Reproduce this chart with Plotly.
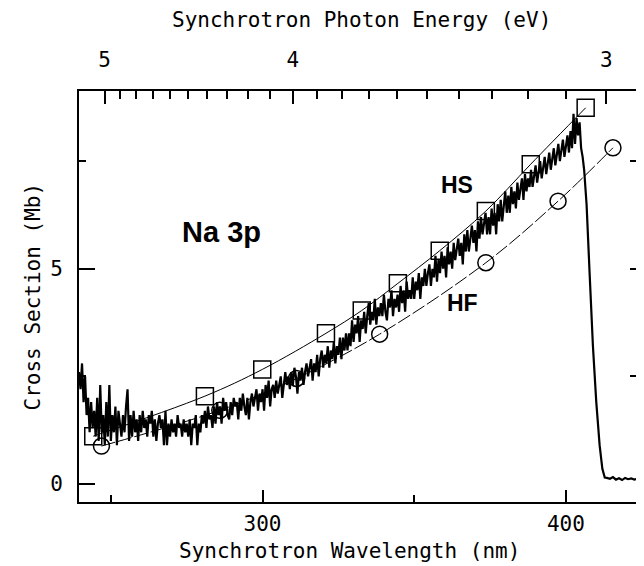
import plotly.graph_objects as go

HC = 1239.84  # eV*nm, converts photon energy to wavelength for the top axis

# ---------------- data ----------------
x_range = [239.5, 425.4]
y_range = [-0.42, 9.13]

wl_major_ticks = [300, 400]
wl_minor_ticks = [250, 350]
mb_major_ticks = [0, 5]
mb_minor_ticks = [2.5, 7.5]
mb_right_ticks = [2.5, 5, 7.5]
energy_major = [5, 4, 3]
energy_minor = [4.9, 4.8, 4.7, 4.6, 4.5, 4.4, 4.3, 4.2, 4.1,
                3.9, 3.8, 3.7, 3.6, 3.5, 3.4, 3.3, 3.2, 3.1]

# measured spectrum, sampled every 0.5 nm from 239.5 nm
spec_start = 239.5
spec_step = 0.5
spec_mb = [
    2.6, 2.2, 2.8, 1.9, 2.5, 1.6, 2.0, 1.2, 1.9, 1.3,
    1.7, 1.1, 2.0, 1.0, 2.3, 1.2, 1.6, 0.9, 1.9, 1.1,
    2.3, 1.0, 1.6, 1.2, 1.8, 0.9, 1.7, 1.3, 1.1, 1.6,
    1.2, 1.8, 2.2, 1.0, 1.6, 1.1, 1.7, 1.2, 1.5, 1.0,
    1.6, 1.2, 1.7, 1.3, 1.5, 1.1, 1.6, 1.4, 1.7, 1.1,
    1.5, 1.0, 1.4, 1.6, 1.3, 1.5, 0.9, 1.7, 0.9, 1.4,
    1.1, 1.5, 1.2, 1.4, 1.1, 1.6, 1.3, 1.4, 1.1, 1.5,
    1.2, 1.4, 1.1, 1.5, 0.9, 1.4, 1.3, 1.6, 0.9, 1.4,
    1.2, 1.6, 1.4, 1.7, 1.3, 1.8, 1.5, 1.6, 1.3, 1.8,
    1.4, 1.9, 1.6, 1.8, 1.4, 2.0, 1.7, 1.9, 1.6, 1.5,
    1.9, 1.6, 2.0, 1.8, 1.9, 1.5, 2.0, 1.7, 2.1, 1.8,
    1.6, 2.0, 1.5, 1.9, 2.1, 1.8, 2.0, 2.2, 1.7, 2.1,
    1.9, 2.2, 1.7, 2.3, 2.0, 2.4, 1.8, 2.2, 2.3, 2.0,
    2.4, 2.1, 2.3, 2.5, 2.0, 2.4, 2.6, 2.3, 2.5, 2.2,
    2.6, 2.3, 2.7, 2.5, 2.1, 2.6, 2.4, 2.7, 2.3, 2.6,
    2.8, 2.5, 2.7, 2.9, 2.4, 2.8, 2.6, 3.0, 2.5, 2.9,
    3.1, 2.7, 3.0, 2.8, 3.2, 2.7, 3.1, 2.9, 3.3, 2.8,
    3.2, 3.0, 3.4, 2.9, 3.4, 3.1, 3.5, 3.1, 3.5, 3.2,
    3.8, 3.3, 3.7, 3.5, 3.9, 3.3, 3.8, 3.6, 4.0, 3.5,
    3.9, 4.2, 3.7, 4.0, 3.8, 4.3, 3.7, 4.1, 3.9, 4.2,
    3.9, 4.4, 4.0, 3.8, 4.3, 4.1, 4.5, 3.9, 4.3, 4.1,
    4.4, 4.0, 4.6, 4.2, 4.5, 4.0, 4.7, 4.3, 4.5, 4.3,
    4.8, 4.3, 4.7, 4.5, 4.9, 4.3, 4.8, 4.6, 5.0, 4.6,
    4.9, 5.1, 4.6, 5.0, 4.8, 5.3, 4.7, 5.2, 4.9, 5.4,
    5.0, 5.3, 4.8, 5.5, 5.1, 5.4, 5.0, 5.6, 5.2, 5.5,
    5.7, 5.3, 5.6, 5.1, 5.8, 5.4, 5.9, 5.4, 5.7, 6.0,
    5.6, 5.9, 5.4, 6.1, 5.7, 6.2, 5.8, 6.0, 6.3, 5.8,
    6.2, 5.8, 6.4, 6.0, 6.3, 5.8, 6.5, 6.1, 6.6, 6.1,
    6.5, 6.8, 6.3, 6.7, 6.3, 6.9, 6.5, 6.8, 6.4, 7.0,
    6.6, 6.9, 7.1, 6.6, 7.2, 6.8, 7.1, 6.9, 7.3, 6.9,
    7.2, 7.4, 7.0, 7.3, 7.5, 7.1, 7.4, 7.6, 7.2, 7.5,
    7.7, 7.3, 7.6, 7.8, 7.4, 7.7, 7.9, 7.5, 7.8, 8.0,
    7.6, 7.9, 8.1, 7.7, 8.2, 7.8, 8.6, 7.9, 8.5, 8.1,
    8.4, 7.8,
]
# edge drop and flat tail of the spectrum
tail_wl = [405.5, 406.0, 406.8, 407.8, 408.9, 410.0, 411.1, 412.0, 412.8,
           413.5, 414.5, 415.5, 416.5, 417.5, 418.5, 419.5, 420.5, 421.5,
           422.5, 423.5, 424.5, 425.4]
tail_mb = [7.6, 7.3, 6.5, 4.9, 3.2, 1.9, 0.9, 0.35, 0.15,
           0.14, 0.12, 0.16, 0.10, 0.13, 0.09, 0.14, 0.11, 0.13,
           0.10, 0.12, 0.09, 0.11]

# theory curves
hs_wl = [244.2, 281.0, 299.9, 320.9, 332.7, 344.6, 358.4, 373.6, 388.4, 406.5]
hs_mb = [1.11, 2.04, 2.66, 3.50, 4.03, 4.66, 5.42, 6.34, 7.43, 8.74]
hf_wl = [246.9, 285.9, 311.2, 338.6, 373.6, 397.4, 415.5]
hf_mb = [0.88, 1.71, 2.45, 3.48, 5.14, 6.57, 7.81]

labels = [
    ("Na 3p", 286.6, 5.86, 29),
    ("HS", 364.0, 6.95, 23),
    ("HF", 366.0, 4.20, 23),
]

# ---------------- figure ----------------
spec_wl = [spec_start + i * spec_step for i in range(len(spec_mb))] + tail_wl
spec_all = spec_mb + tail_mb

FONT = "DejaVu Sans Mono"
fig = go.Figure()
fig.add_trace(go.Scatter(x=spec_wl, y=spec_all, mode="lines",
                         line=dict(color="black", width=2.2),
                         xaxis="x", yaxis="y", showlegend=False,
                         hoverinfo="skip"))
fig.add_trace(go.Scatter(x=hs_wl, y=hs_mb, mode="lines+markers",
                         line=dict(color="black", width=1, shape="spline"),
                         marker=dict(symbol="square-open", size=17, color="black",
                                     line=dict(width=1.5, color="black")),
                         xaxis="x2", yaxis="y2", showlegend=False))
fig.add_trace(go.Scatter(x=hf_wl, y=hf_mb, mode="lines+markers",
                         line=dict(color="black", width=1, shape="spline",
                                   dash="14px,3px"),
                         marker=dict(symbol="circle-open", size=16, color="black",
                                     line=dict(width=1.5, color="black")),
                         xaxis="x2", yaxis="y2", showlegend=False))

for text, x, y, size in labels:
    fig.add_annotation(x=x, y=y, xref="x", yref="y", text=f"<b>{text}</b>",
                       showarrow=False, xanchor="center", yanchor="middle",
                       font=dict(family="Liberation Sans", size=size, color="black"))

axis_common = dict(showgrid=False, zeroline=False, showline=True,
                   linecolor="black", linewidth=2, ticks="inside",
                   tickcolor="black", tickwidth=1.5,
                   tickfont=dict(family=FONT, size=21, color="black"))

# the page body adds an 8 px offset; the figure is sized to fit the window
fig.update_layout(
    width=636, height=558,
    margin=dict(l=71, r=1, t=83, b=64),
    paper_bgcolor="white", plot_bgcolor="white",
    xaxis=dict(range=x_range, tickmode="array", tickvals=wl_major_ticks,
               ticktext=[str(v) for v in wl_major_ticks], ticklen=12,
               ticklabelstandoff=2,
               minor=dict(tickvals=wl_minor_ticks, ticks="inside", ticklen=7,
                          tickcolor="black", tickwidth=1.5),
               anchor="y", **axis_common),
    yaxis=dict(range=y_range, tickmode="array", tickvals=mb_major_ticks,
               ticktext=[str(v) for v in mb_major_ticks], ticklen=16,
               ticklabelstandoff=10,
               minor=dict(tickvals=mb_minor_ticks, ticks="inside", ticklen=7,
                          tickcolor="black", tickwidth=1.5),
               anchor="x", **axis_common),
    xaxis2=dict(range=x_range, overlaying="x", side="top", anchor="y2",
                tickmode="array", tickvals=[HC / e for e in energy_major],
                ticktext=[str(e) for e in energy_major], ticklen=13,
                ticklabelstandoff=14,
                minor=dict(tickvals=[HC / e for e in energy_minor], ticks="inside",
                           ticklen=8, tickcolor="black", tickwidth=1.5),
                **axis_common),
    yaxis2=dict(range=y_range, overlaying="y", side="right", anchor="x2",
                tickmode="array", tickvals=mb_right_ticks, ticklen=13,
                showticklabels=False, **axis_common),
)

title_font = dict(family=FONT, size=21, color="black")
fig.add_annotation(x=0.479, y=-0.119, xref="paper", yref="paper",
                   xanchor="center", yanchor="middle",
                   text="Synchrotron Wavelength (nm)", showarrow=False,
                   font=title_font)
fig.add_annotation(x=0.5, y=1.173, xref="paper", yref="paper",
                   xanchor="center", yanchor="middle",
                   text="Synchrotron Photon Energy (eV)", showarrow=False,
                   font=title_font)
fig.add_annotation(x=-0.0816, y=0.5, xref="paper", yref="paper", textangle=-90,
                   xanchor="center", yanchor="middle",
                   text="Cross Section (Mb)", showarrow=False,
                   font=title_font)

fig.write_html("out.html")
